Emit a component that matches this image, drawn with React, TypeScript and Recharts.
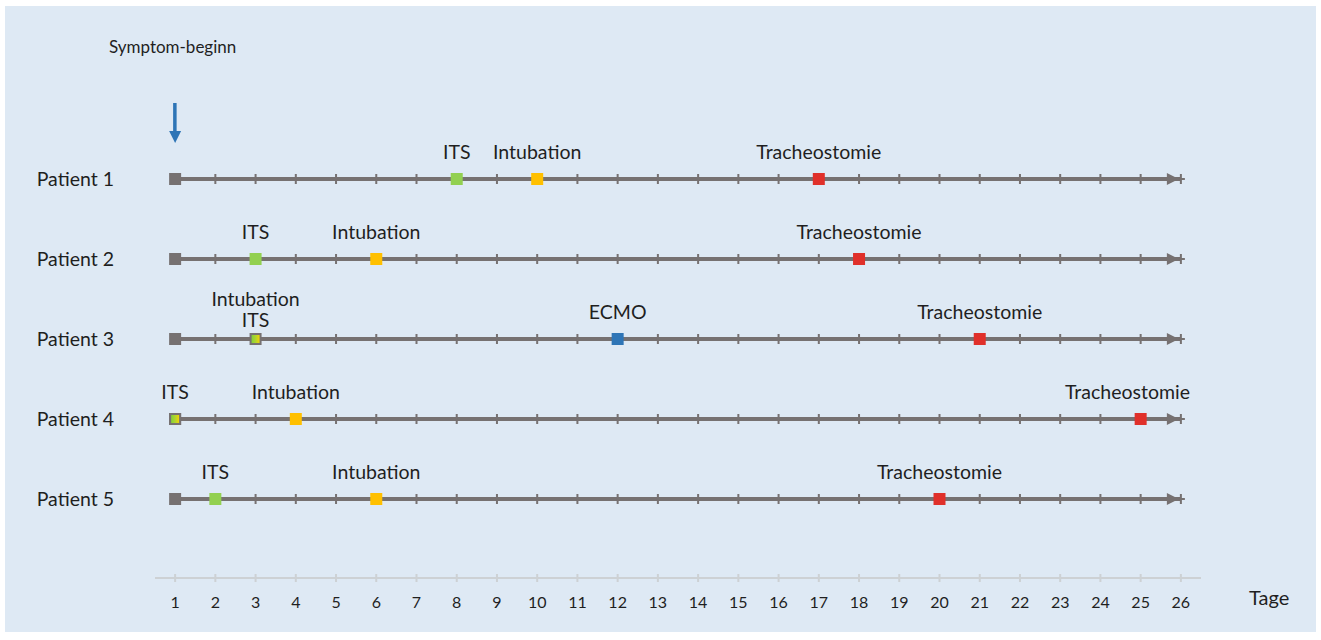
import { ComposedChart, XAxis, YAxis, Line, Scatter } from "recharts";

const FONT = "Lato, 'Open Sans', sans-serif";
const BG = "#dee9f4";
const GRAY = "#767171";
const TEXT = "#1f1f1f";

const DAYS = [1, 2, 3, 4, 5, 6, 7, 8, 9, 10, 11, 12, 13, 14, 15, 16, 17, 18, 19, 20, 21, 22, 23, 24, 25, 26];
const PATIENTS = [1, 2, 3, 4, 5];
const START_LABEL = "Symptom-beginn";
const AXIS_TITLE = "Tage";

// events per patient (row) and day
const ITS = [
  { row: 1, day: 8 },
  { row: 2, day: 3 },
  { row: 4, day: 1 },
  { row: 5, day: 2 },
];
const INTUBATION = [
  { row: 1, day: 10 },
  { row: 2, day: 6 },
  { row: 4, day: 4 },
  { row: 5, day: 6 },
];
const ITS_AND_INTUBATION = [{ row: 3, day: 3 }];
const ECMO = [{ row: 3, day: 12 }];
const TRACHEOSTOMIE = [
  { row: 1, day: 17 },
  { row: 2, day: 18 },
  { row: 3, day: 21 },
  { row: 4, day: 25 },
  { row: 5, day: 20 },
];

const startPoints = PATIENTS.map((p) => ({ row: p, day: DAYS[0] }));
const tickPoints = PATIENTS.flatMap((p) => DAYS.slice(1).map((d) => ({ row: p, day: d })));
const symptomPoint = [{ row: 0.55, day: DAYS[0] }];

function EventText({ x, y, lines }: { x: number; y: number; lines: string[] }) {
  // keep long labels inside the panel
  const nearEdge = x + 66 > 1192;
  const tx = nearEdge ? 1190 : x;
  return (
    <text x={tx} textAnchor={nearEdge ? "end" : "middle"} fontSize={19.5} fontFamily={FONT} fill={TEXT}>
      {lines.map((l, i) => (
        <tspan key={l} x={tx} y={y - 14 - (lines.length - 1 - i) * 21}>
          {l}
        </tspan>
      ))}
    </text>
  );
}

function makeMarker(color: string, label: string[]) {
  return (props: any) => {
    const { cx, cy, payload } = props;
    const mixed = payload.day === DAYS[0];
    return (
      <g>
        {mixed ? (
          <rect x={cx - 5} y={cy - 5} width={10} height={10} fill="url(#mixGrad)" stroke={GRAY} strokeWidth={2} />
        ) : (
          <rect x={cx - 6} y={cy - 6} width={12} height={12} fill={color} />
        )}
        <EventText x={cx} y={cy - 6} lines={label} />
      </g>
    );
  };
}

function MixedMarker(props: any) {
  const { cx, cy } = props;
  return (
    <g>
      <rect x={cx - 5} y={cy - 5} width={10} height={10} fill="url(#mixGrad)" stroke={GRAY} strokeWidth={2} />
      <EventText x={cx} y={cy + 2} lines={["Intubation", "ITS"]} />
    </g>
  );
}

function StartSquare(props: any) {
  const { cx, cy } = props;
  return <rect x={cx - 6} y={cy - 6} width={12} height={12} fill={GRAY} />;
}

function DayMark(props: any) {
  const { cx, cy } = props;
  return <rect x={cx - 1} y={cy - 5} width={2} height={10} fill={GRAY} />;
}

function SymptomArrow(props: any) {
  const { cx, cy } = props;
  return (
    <g>
      <rect x={cx - 2} y={cy - 40} width={3.5} height={30} fill="#2e75b6" />
      <polygon points={`${cx - 6},${cy - 12} ${cx + 6},${cy - 12} ${cx},${cy}`} fill="#2e75b6" />
      <text x={cx - 2.5} y={cy - 90} textAnchor="middle" fontSize={17} fontFamily={FONT} fill={TEXT}>
        {START_LABEL}
      </text>
    </g>
  );
}

function ArrowEnd(props: any) {
  const { cx, cy, index } = props;
  if (index !== 1) return <g key={`d${index}`} />;
  return (
    <g key={`d${index}`}>
      <polygon points={`${cx - 14},${cy - 6} ${cx - 2},${cy} ${cx - 14},${cy + 6}`} fill={GRAY} />
      <rect x={cx - 2} y={cy - 1} width={6} height={2} fill={GRAY} />
    </g>
  );
}

function DayTick(props: any) {
  const { x, y, payload } = props;
  return (
    <g>
      <line x1={x} x2={x} y1={y - 4} y2={y + 4} stroke="#cdd1d4" strokeWidth={2} />
      <text x={x} y={y + 30} textAnchor="middle" fontSize={16} fontFamily={FONT} fill={TEXT}>
        {payload.value}
      </text>
    </g>
  );
}

export default function App() {
  return (
    <div style={{ position: "absolute", left: 0, top: 0, width: 1321, height: 640, background: "#fff" }}>
      <div style={{ position: "absolute", left: 5, top: 6, width: 1311, height: 626, background: BG }} />
      <div style={{ position: "absolute", left: 0, top: 0 }}>
        <ComposedChart width={1321} height={640} margin={{ top: 0, right: 120, bottom: 0, left: 0 }}>
          <defs>
            <linearGradient id="mixGrad" x1="0" y1="0" x2="1" y2="0">
              <stop offset="0%" stopColor="#7ccf3a" />
              <stop offset="45%" stopColor="#a8d530" />
              <stop offset="100%" stopColor="#ffd400" />
            </linearGradient>
          </defs>
          <XAxis
            type="number"
            dataKey="day"
            domain={[0.5, 26.5]}
            ticks={DAYS}
            height={62}
            tickSize={0}
            tickMargin={0}
            tickLine={false}
            axisLine={{ stroke: "#cdd1d4", strokeWidth: 2 }}
            tick={<DayTick />}
            interval={0}
            label={{
              value: AXIS_TITLE,
              position: "right",
              offset: 48,
              dy: -11,
              fontSize: 20,
              fontFamily: FONT,
              fill: TEXT,
            }}
          />
          <YAxis
            type="number"
            dataKey="row"
            domain={[-1.2375, 5.9875]}
            reversed
            ticks={PATIENTS}
            width={155}
            tickSize={0}
            tickMargin={41}
            tickLine={false}
            axisLine={false}
            interval={0}
            tickFormatter={(p: number) => `Patient ${p}`}
            tick={{ fontSize: 19.5, fontFamily: FONT, fill: TEXT }}
          />
          {PATIENTS.map((p) => (
            <Line
              key={p}
              data={[
                { day: DAYS[0], row: p },
                { day: DAYS[DAYS.length - 1], row: p },
              ]}
              dataKey="row"
              stroke={GRAY}
              strokeWidth={4}
              dot={ArrowEnd}
              activeDot={false}
              isAnimationActive={false}
            />
          ))}
          <Scatter data={tickPoints} shape={DayMark} isAnimationActive={false} />
          <Scatter data={startPoints} shape={StartSquare} isAnimationActive={false} />
          <Scatter data={ITS} shape={makeMarker("#92d050", ["ITS"])} isAnimationActive={false} />
          <Scatter data={INTUBATION} shape={makeMarker("#ffc000", ["Intubation"])} isAnimationActive={false} />
          <Scatter data={ITS_AND_INTUBATION} shape={MixedMarker} isAnimationActive={false} />
          <Scatter data={ECMO} shape={makeMarker("#2e75b6", ["ECMO"])} isAnimationActive={false} />
          <Scatter data={TRACHEOSTOMIE} shape={makeMarker("#e0302a", ["Tracheostomie"])} isAnimationActive={false} />
          <Scatter data={symptomPoint} shape={SymptomArrow} isAnimationActive={false} />
        </ComposedChart>
      </div>
    </div>
  );
}
